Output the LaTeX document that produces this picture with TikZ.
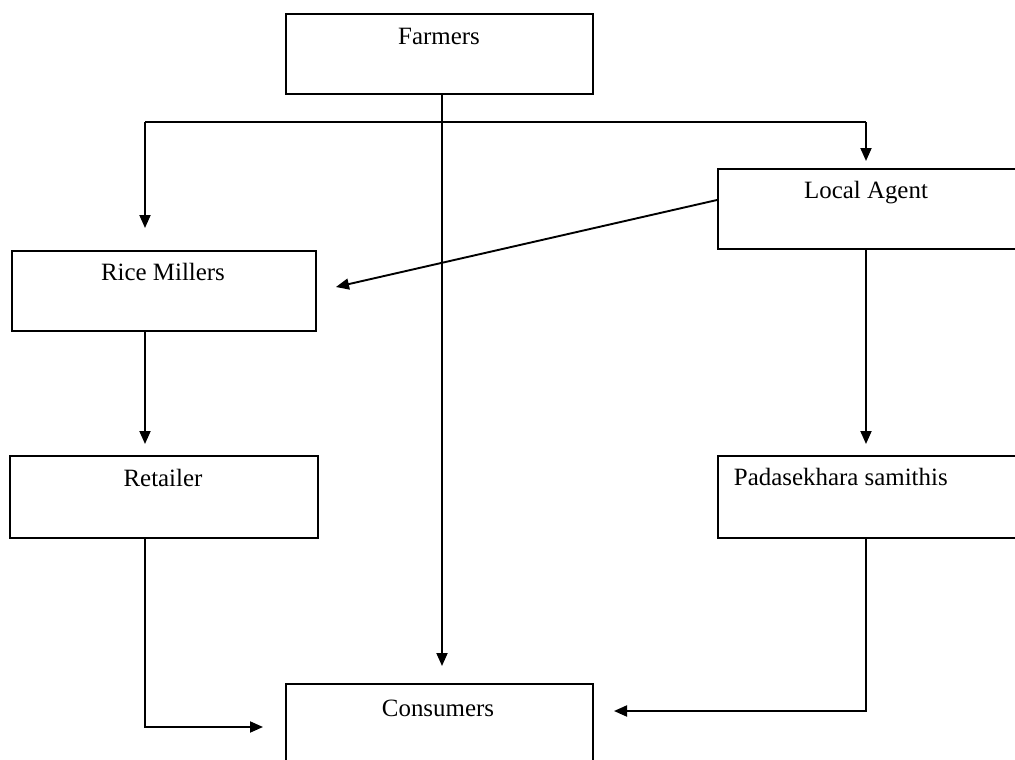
\documentclass[tikz,border=0pt]{standalone}
\usepackage{fontspec}
\setmainfont{Liberation Serif}
\usetikzlibrary{arrows.meta}
\begin{document}
\begin{tikzpicture}[x=1bp,y=-1bp, line width=1.9bp,
  box/.style={draw, line width=1.9bp, inner sep=0, anchor=north west},
  lbl/.style={font=\fontsize{25}{29}\selectfont, inner sep=0},
  arr/.style={-{Triangle[length=13bp,width=11bp]}}]
\useasboundingbox (0,0) rectangle (1015,760);
\clip (0,0) rectangle (1015,760);
% boxes
\node[box, minimum width=307bp, minimum height=80bp] (farmers) at (285,13) {};
\node[box, minimum width=320bp, minimum height=80bp] (agent) at (717,168) {};
\node[box, minimum width=304bp, minimum height=80bp] (millers) at (11,250) {};
\node[box, minimum width=308bp, minimum height=82bp] (retailer) at (9,455) {};
\node[box, minimum width=320bp, minimum height=82bp] (samithis) at (717,455) {};
\node[box, minimum width=307bp, minimum height=100bp] (consumers) at (285,683) {};
% labels
\node[lbl] (tf) at (439,36) {Farmers};
\node[lbl] (ta) at (866,193) {Local Agent};
\node[lbl] (tm) at (163,272) {Rice Millers};
\node[lbl] (tr) at (163,478) {Retailer};
\node[lbl, anchor=west] (ts) at (733,477) {Padasekhara samithis};
\node[lbl] (tc) at (438,708) {Consumers};
% coordinates
\coordinate (ct) at (442,666);
\coordinate (bl) at (145,122);
\coordinate (br) at (866,122);
\coordinate (mt) at (145,228);
\coordinate (at) at (866,161);
\coordinate (ae) at (717,200);
\coordinate (me) at (336,287);
\coordinate (rt) at (145,444);
\coordinate (st) at (866,444);
\coordinate (rc) at (145,727);
\coordinate (re) at (263,727);
\coordinate (sc) at (866,711);
\coordinate (se) at (614,711);
% connectors
\draw[arr] (farmers.south -| ct) -- (ct);
\draw (bl) -- (br);
\draw[arr] (bl) -- (mt);
\draw[arr] (br) -- (at);
\draw[arr] (ae) -- (me);
\draw[arr] (millers.south -| rt) -- (rt);
\draw[arr] (agent.south -| st) -- (st);
\draw[arr] (retailer.south -| rc) -- (rc) -- (re);
\draw[arr] (samithis.south -| sc) -- (sc) -- (se);
\end{tikzpicture}
\end{document}
